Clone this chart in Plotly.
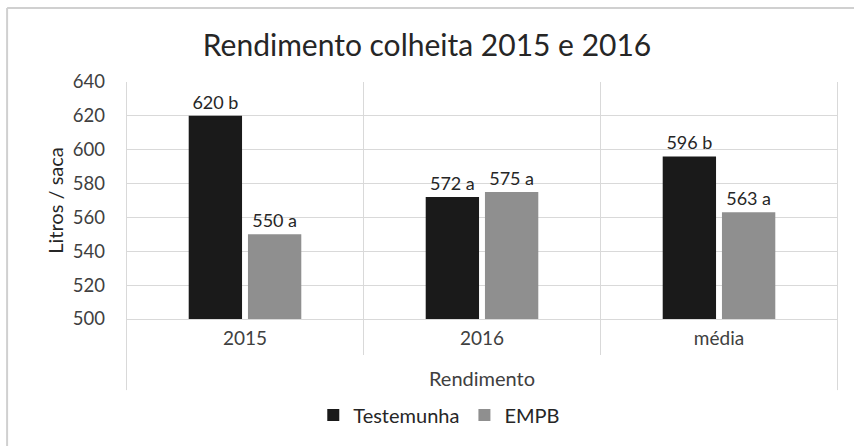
import plotly.graph_objects as go

categories = ["2015", "2016", "média"]
testemunha = [620, 572, 596]
testemunha_letters = ["b", "a", "b"]
empb = [550, 575, 563]
empb_letters = ["a", "a", "a"]

FONT = "Lato"
TXT = "#262626"
GRID = "#d9d9d9"

fig = go.Figure()
fig.add_trace(go.Bar(
    name="Testemunha", x=categories, y=testemunha,
    text=[f"{v} {l}" for v, l in zip(testemunha, testemunha_letters)],
    textposition="outside", cliponaxis=False,
    textfont=dict(family=FONT, size=18, color=TXT),
    marker=dict(color="#1a1a1a", line=dict(width=0)),
))
fig.add_trace(go.Bar(
    name="EMPB", x=categories, y=empb,
    text=[f"{v} {l}" for v, l in zip(empb, empb_letters)],
    textposition="outside", cliponaxis=False,
    textfont=dict(family=FONT, size=18, color=TXT),
    marker=dict(color="#8f8f8f", line=dict(width=0)),
))

shapes = []
# category dividers
for i in range(len(categories) + 1):
    outer = i == 0 or i == len(categories)
    shapes.append(dict(type="line", xref="x", yref="paper",
                       x0=i - 0.5, x1=i - 0.5, y0=1, y1=-0.30 if outer else -0.152,
                       line=dict(color=GRID, width=1)))
# outer frame (left + top)
shapes.append(dict(type="line", xref="paper", yref="paper", x0=-0.167, x1=-0.167,
                   y0=1.312, y1=-0.6, line=dict(color="#d0d0d0", width=2)))
shapes.append(dict(type="line", xref="paper", yref="paper", x0=-0.167, x1=1.1,
                   y0=1.312, y1=1.312, line=dict(color="#d0d0d0", width=2)))

fig.update_layout(
    width=854, height=446,
    margin=dict(l=126, r=16, t=82, b=127, autoexpand=False),
    paper_bgcolor="white", plot_bgcolor="white",
    barmode="group", bargap=0.5, bargroupgap=0.1,
    font=dict(family=FONT, color=TXT),
    title=dict(text="Rendimento colheita 2015 e 2016", x=0.5, xanchor="center",
               y=0.899, yanchor="middle",
               font=dict(family=FONT, size=30, color=TXT)),
    showlegend=True,
    legend=dict(orientation="h", x=0.44, xanchor="center", y=-0.405, yanchor="middle",
                font=dict(family=FONT, size=20, color=TXT), itemwidth=30,
                traceorder="normal"),
    shapes=shapes,
)
fig.update_yaxes(range=[500, 640], dtick=20, showgrid=True, gridcolor=GRID, gridwidth=1,
                 zeroline=False, showline=False, automargin=False,
                 tickfont=dict(family=FONT, size=18.5, color="#404040"),
                 ticks="", ticklabelstandoff=20,
                 title=dict(text="Litros / saca", standoff=3,
                            font=dict(family=FONT, size=20, color=TXT)))
fig.update_xaxes(showline=True, linecolor=GRID, linewidth=1, showgrid=False,
                 automargin=False,
                 tickfont=dict(family=FONT, size=19, color="#404040"),
                 ticks="", ticklabelstandoff=2,
                 title=dict(text="Rendimento", standoff=24,
                            font=dict(family=FONT, size=20, color="#404040")))

fig.write_html("out.html", post_script="document.body.style.margin='0';",
               config={"displayModeBar": False})
